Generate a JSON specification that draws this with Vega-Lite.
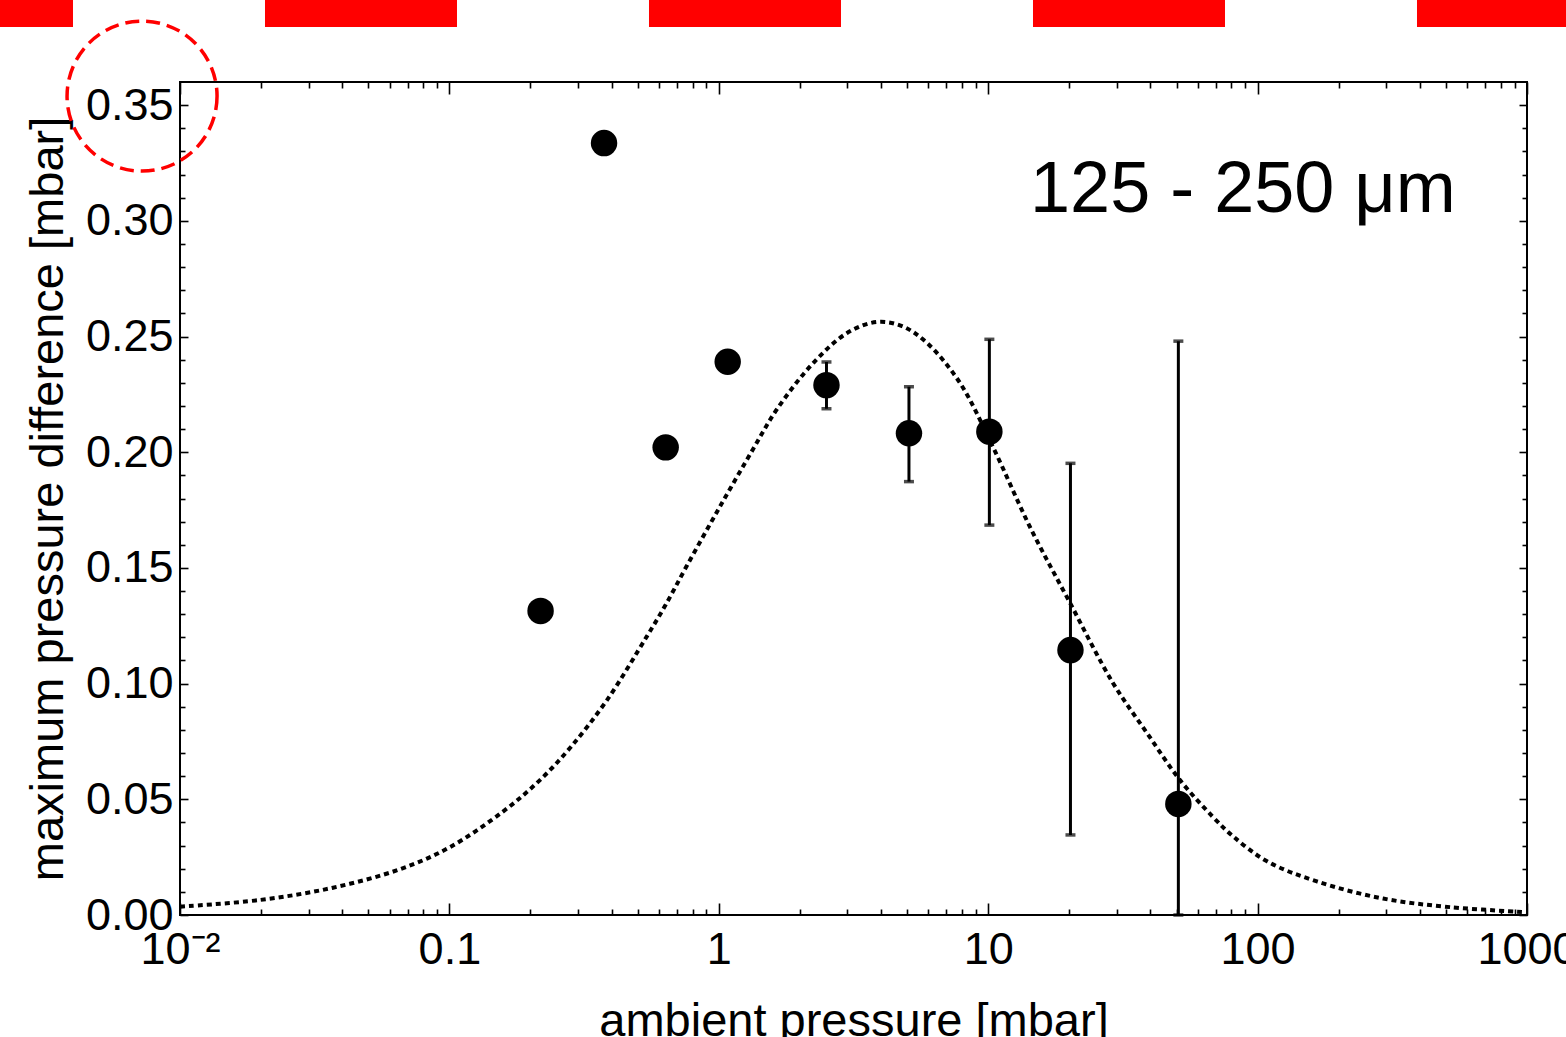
{
  "$schema": "https://vega.github.io/schema/vega-lite/v6.json",
  "width": 1347,
  "height": 833,
  "autosize": {"type": "none"},
  "padding": {"left": 180, "top": 82, "right": 39, "bottom": 122},
  "background": "white",
  "config": {
    "view": {"stroke": "black", "strokeWidth": 2},
    "font": "Liberation Sans",
    "axis": {"grid": false, "domain": false, "labelFont": "Liberation Sans", "titleFont": "Liberation Sans", "tickColor": "black", "tickWidth": 1.6, "labelColor": "black", "titleColor": "black", "titleFontWeight": "normal"}
  },
  "datasets": {
    "points": [
      {"p": 0.218, "d": 0.1314},
      {"p": 0.375, "d": 0.3336},
      {"p": 0.635, "d": 0.2021},
      {"p": 1.079, "d": 0.2391},
      {"p": 2.51, "d": 0.229, "lo": 0.2188, "hi": 0.239},
      {"p": 5.08, "d": 0.2082, "lo": 0.1873, "hi": 0.2283},
      {"p": 10.1, "d": 0.2089, "lo": 0.1685, "hi": 0.2488},
      {"p": 20.2, "d": 0.1145, "lo": 0.0346, "hi": 0.1952},
      {"p": 50.8, "d": 0.048, "lo": 0.0, "hi": 0.248}
    ],
    "curve": [
      {"p": 0.01, "d": 0.0036},
      {"p": 0.0198, "d": 0.0065},
      {"p": 0.037, "d": 0.0118},
      {"p": 0.0656, "d": 0.0198},
      {"p": 0.1, "d": 0.0292},
      {"p": 0.1585, "d": 0.0448},
      {"p": 0.2168, "d": 0.0583},
      {"p": 0.2818, "d": 0.0725},
      {"p": 0.3846, "d": 0.0929},
      {"p": 0.54, "d": 0.1203},
      {"p": 0.631, "d": 0.1335},
      {"p": 0.76, "d": 0.1508},
      {"p": 1.01, "d": 0.1765},
      {"p": 1.343, "d": 0.2015},
      {"p": 1.642, "d": 0.2185},
      {"p": 2.239, "d": 0.2385},
      {"p": 2.992, "d": 0.2515},
      {"p": 3.864, "d": 0.2563},
      {"p": 4.79, "d": 0.2545},
      {"p": 5.929, "d": 0.2472},
      {"p": 7.852, "d": 0.23},
      {"p": 10.42, "d": 0.2022},
      {"p": 14.29, "d": 0.1677},
      {"p": 20.14, "d": 0.1348},
      {"p": 29.04, "d": 0.1003},
      {"p": 38.82, "d": 0.0787},
      {"p": 51.52, "d": 0.0583},
      {"p": 68.23, "d": 0.0424},
      {"p": 81.1, "d": 0.034},
      {"p": 108.4, "d": 0.0232},
      {"p": 166, "d": 0.0145},
      {"p": 292.4, "d": 0.0071},
      {"p": 517.6, "d": 0.0034},
      {"p": 1000, "d": 0.0012}
    ],
    "label": [{"p": 14.3, "d": 0.3038, "text": "125 - 250 μm"}],
    "band": [{"p": 0.002147, "p2": 1396, "d": 0.3896}],
    "ring": [{"p": 0.00723, "d": 0.3539}]
  },
  "resolve": {"axis": {"x": "independent", "y": "independent"}},
  "layer": [
    {
      "data": {"name": "curve"},
      "mark": {"type": "line", "color": "black", "strokeWidth": 4, "strokeDash": [5, 4], "interpolate": "catmull-rom", "clip": true},
      "encoding": {
        "x": {"field": "p", "type": "quantitative", "scale": {"type": "log", "domain": [0.01, 1000], "nice": false},
          "axis": {"orient": "bottom", "values": [0.01, 0.1, 1, 10, 100, 1000], "ticks": false, "labelPadding": 12, "labelFontSize": 45, "labelFlush": false, "labelOverlap": false, "labelBound": false,
            "labelExpr": "datum.value == 0.01 ? '10⁻²' : datum.value == 0.1 ? '0.1' : format(datum.value, 'd')",
            "title": "ambient pressure [mbar]", "titleFontSize": 47, "titleBaseline": "alphabetic", "titlePadding": 63}},
        "y": {"field": "d", "type": "quantitative", "scale": {"domain": [0, 0.36], "nice": false, "zero": false},
          "axis": {"orient": "left", "values": [0, 0.05, 0.1, 0.15, 0.2, 0.25, 0.3, 0.35], "format": ".2f", "ticks": false, "labelPadding": 7, "labelFontSize": 45, "labelFlush": false, "labelOverlap": false, "labelBound": false,
            "title": "maximum pressure difference [mbar]", "titleFontSize": 47, "titleBaseline": "alphabetic", "titlePadding": 23}}
      }
    },
    {
      "data": {"name": "points"},
      "transform": [{"filter": "isValid(datum.lo)"}],
      "mark": {"type": "rule", "color": "black", "strokeWidth": 3},
      "encoding": {
        "x": {"field": "p", "type": "quantitative", "axis": {"orient": "bottom", "values": [0.01, 0.1, 1, 10, 100, 1000], "labels": false, "tickSize": -12, "title": null}},
        "y": {"field": "lo", "type": "quantitative", "axis": {"orient": "left", "values": [0, 0.05, 0.1, 0.15, 0.2, 0.25, 0.3, 0.35], "labels": false, "tickSize": -8, "title": null}},
        "y2": {"field": "hi"}
      }
    },
    {
      "data": {"name": "points"},
      "transform": [{"filter": "isValid(datum.lo)"}, {"fold": ["lo", "hi"], "as": ["end", "v"]}],
      "mark": {"type": "tick", "color": "black", "orient": "horizontal", "size": 10, "thickness": 3.5},
      "encoding": {
        "x": {"field": "p", "type": "quantitative", "axis": {"orient": "bottom", "values": [0.02, 0.03, 0.04, 0.05, 0.06, 0.07, 0.08, 0.09, 0.2, 0.3, 0.4, 0.5, 0.6, 0.7, 0.8, 0.9, 2, 3, 4, 5, 6, 7, 8, 9, 20, 30, 40, 50, 60, 70, 80, 90, 200, 300, 400, 500, 600, 700, 800, 900], "labels": false, "tickSize": -6, "title": null}},
        "y": {"field": "v", "type": "quantitative", "axis": {"orient": "left", "values": [0.01, 0.02, 0.03, 0.04, 0.06, 0.07, 0.08, 0.09, 0.11, 0.12, 0.13, 0.14, 0.16, 0.17, 0.18, 0.19, 0.21, 0.22, 0.23, 0.24, 0.26, 0.27, 0.28, 0.29, 0.31, 0.32, 0.33, 0.34], "labels": false, "tickSize": -5, "title": null}}
      }
    },
    {
      "data": {"name": "points"},
      "mark": {"type": "point", "shape": "circle", "filled": true, "color": "black", "size": 700, "opacity": 1},
      "encoding": {
        "x": {"field": "p", "type": "quantitative", "axis": {"orient": "top", "values": [0.01, 0.1, 1, 10, 100, 1000], "labels": false, "tickSize": -12, "title": null}},
        "y": {"field": "d", "type": "quantitative", "axis": {"orient": "right", "values": [0, 0.05, 0.1, 0.15, 0.2, 0.25, 0.3, 0.35], "labels": false, "tickSize": -8, "title": null}}
      }
    },
    {
      "data": {"name": "label"},
      "mark": {"type": "text", "align": "left", "baseline": "alphabetic", "fontSize": 72, "font": "Liberation Sans", "color": "black"},
      "encoding": {
        "x": {"field": "p", "type": "quantitative", "axis": {"orient": "top", "values": [0.02, 0.03, 0.04, 0.05, 0.06, 0.07, 0.08, 0.09, 0.2, 0.3, 0.4, 0.5, 0.6, 0.7, 0.8, 0.9, 2, 3, 4, 5, 6, 7, 8, 9, 20, 30, 40, 50, 60, 70, 80, 90, 200, 300, 400, 500, 600, 700, 800, 900], "labels": false, "tickSize": -6, "title": null}},
        "y": {"field": "d", "type": "quantitative", "axis": {"orient": "right", "values": [0.01, 0.02, 0.03, 0.04, 0.06, 0.07, 0.08, 0.09, 0.11, 0.12, 0.13, 0.14, 0.16, 0.17, 0.18, 0.19, 0.21, 0.22, 0.23, 0.24, 0.26, 0.27, 0.28, 0.29, 0.31, 0.32, 0.33, 0.34], "labels": false, "tickSize": -5, "title": null}},
        "text": {"field": "text"}
      }
    },
    {
      "data": {"name": "band"},
      "mark": {"type": "rule", "color": "#ff0000", "strokeWidth": 27, "strokeDash": [192, 192], "strokeDashOffset": 119, "strokeCap": "butt", "clip": false},
      "encoding": {
        "x": {"field": "p", "type": "quantitative", "axis": null},
        "x2": {"field": "p2"},
        "y": {"field": "d", "type": "quantitative", "axis": null}
      }
    },
    {
      "data": {"name": "ring"},
      "mark": {"type": "point", "shape": "circle", "filled": false, "stroke": "#ff0000", "strokeWidth": 3.5, "strokeDash": [14, 7], "size": 22500, "opacity": 1, "clip": false},
      "encoding": {
        "x": {"field": "p", "type": "quantitative", "axis": null},
        "y": {"field": "d", "type": "quantitative", "axis": null}
      }
    }
  ]
}
